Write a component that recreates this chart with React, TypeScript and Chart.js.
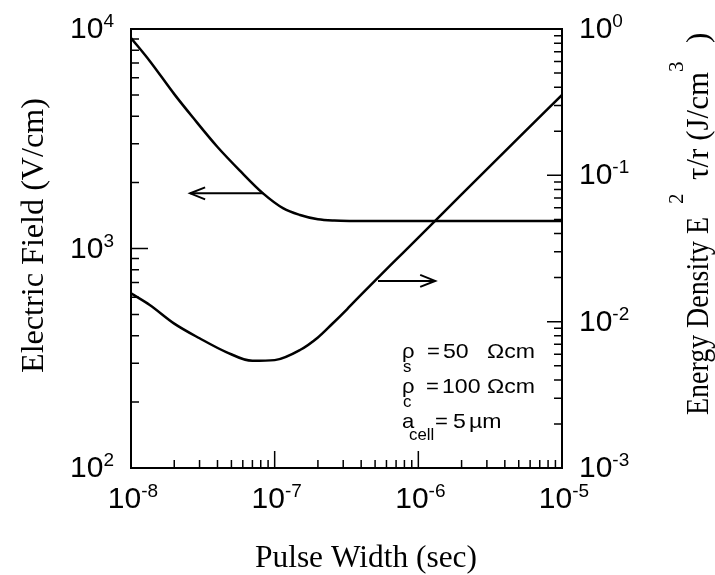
import React, { useEffect, useRef } from "react";
import { Chart, registerables } from "chart.js";

Chart.register(...registerables);

// ---- Data ----
const pulseWidthField = [1e-8, 1.35e-8, 2e-8, 2.7e-8, 4e-8, 5.7e-8, 8.3e-8, 1.15e-7, 1.5e-7, 2e-7, 2.6e-7, 3.5e-7, 5e-7, 1e-6, 1e-5];
const electricField = [9100, 7150, 5050, 3950, 2900, 2270, 1783, 1523, 1422, 1359, 1340, 1335, 1334, 1334, 1334];

const pulseWidthEnergy = [1e-8, 1.35e-8, 2e-8, 3e-8, 4.6e-8, 7e-8, 1e-7, 1.5e-7, 2e-7, 2.5e-7, 3.2e-7, 4e-7, 5e-7, 7e-7, 1e-6, 2e-6, 5e-6, 1e-5];
const energyDensity = [0.0156, 0.013, 0.0097, 0.0077, 0.0062, 0.0054, 0.00546, 0.0064, 0.0078, 0.0096, 0.0122, 0.0153, 0.0191, 0.0265, 0.0375, 0.074, 0.181, 0.354];

const xTickExponents = ["-8", "-7", "-6", "-5"];
const leftTickExponents = ["2", "3", "4"];
const rightTickExponents = ["-3", "-2", "-1", "0"];

const xAxisTitle = "Pulse Width (sec)";
const leftAxisTitle = "Electric Field (V/cm)";
const annotationLines = [
  { sym: "\u03C1", sub: "s", eq: "=", val: "50", unit: "\u03A9cm" },
  { sym: "\u03C1", sub: "c", eq: "=", val: "100", unit: "\u03A9cm" },
  { sym: "a", sub: "cell", eq: "=", val: "5", unit: "\u00B5m" },
];

const SANS = '"Liberation Sans", Arial, Helvetica, sans-serif';
const SERIF = '"Liberation Serif", "Times New Roman", Times, serif';

function fitText(ctx: CanvasRenderingContext2D, text: string, x: number, y: number, width: number, font: string) {
  ctx.font = font;
  const w = ctx.measureText(text).width;
  ctx.save();
  ctx.translate(x, y);
  ctx.scale(width / w, 1);
  ctx.textAlign = "left";
  ctx.textBaseline = "alphabetic";
  ctx.fillText(text, 0, 0);
  ctx.restore();
}

function stretchText(ctx: CanvasRenderingContext2D, text: string, x: number, y: number, font: string, sx: number) {
  ctx.font = font;
  ctx.save();
  ctx.translate(x, y);
  ctx.scale(sx, 1);
  ctx.textAlign = "left";
  ctx.textBaseline = "alphabetic";
  ctx.fillText(text, 0, 0);
  ctx.restore();
}

function drawPow(ctx: CanvasRenderingContext2D, exp: string, x: number, baseline: number, align: "left" | "right" | "center") {
  const baseFont = `30px ${SANS}`;
  const supFont = `19px ${SANS}`;
  ctx.font = baseFont;
  const bw = ctx.measureText("10").width;
  ctx.font = supFont;
  const sw = ctx.measureText(exp).width;
  const total = bw + sw;
  const x0 = align === "left" ? x : align === "right" ? x - total : x - total / 2;
  ctx.textAlign = "left";
  ctx.textBaseline = "alphabetic";
  ctx.font = baseFont;
  ctx.fillText("10", x0, baseline);
  ctx.font = supFont;
  ctx.fillText(exp, x0 + bw, baseline - 11);
}

function arrow(ctx: CanvasRenderingContext2D, x1: number, y1: number, x2: number, y2: number) {
  const ang = Math.atan2(y2 - y1, x2 - x1);
  const L = 15, Wd = 6;
  ctx.beginPath();
  ctx.moveTo(x1, y1);
  ctx.lineTo(x2, y2);
  ctx.stroke();
  ctx.beginPath();
  ctx.moveTo(x2 - L * Math.cos(ang) + Wd * Math.sin(ang), y2 - L * Math.sin(ang) - Wd * Math.cos(ang));
  ctx.lineTo(x2, y2);
  ctx.lineTo(x2 - L * Math.cos(ang) - Wd * Math.sin(ang), y2 - L * Math.sin(ang) + Wd * Math.cos(ang));
  ctx.stroke();
}

const decorPlugin = {
  id: "decor",
  afterDraw(chart: any) {
    const ctx: CanvasRenderingContext2D = chart.ctx;
    const { left, right, top, bottom } = chart.chartArea;
    const xs = chart.scales.x;
    const ys = chart.scales.y;
    const y2s = chart.scales.y2;
    ctx.save();
    ctx.strokeStyle = "#000";
    ctx.fillStyle = "#000";
    ctx.lineCap = "butt";

    ctx.lineWidth = 2;
    ctx.strokeRect(left, top, right - left, bottom - top);

    ctx.lineWidth = 1.5;
    ctx.beginPath();
    for (let k = -8; k <= -6; k++) {
      for (let m = 1; m <= 9; m++) {
        if (k === -8 && m === 1) continue;
        const px = xs.getPixelForValue(m * Math.pow(10, k));
        const len = m === 1 ? 17 : 8;
        ctx.moveTo(px, bottom);
        ctx.lineTo(px, bottom - len);
      }
    }
    for (let k = 2; k <= 3; k++) {
      for (let m = 1; m <= 9; m++) {
        if (k === 2 && m === 1) continue;
        const py = ys.getPixelForValue(m * Math.pow(10, k));
        const len = m === 1 ? 17 : 8;
        ctx.moveTo(left, py);
        ctx.lineTo(left + len, py);
      }
    }
    for (let k = -3; k <= -1; k++) {
      for (let m = 1; m <= 9; m++) {
        if (k === -3 && m === 1) continue;
        const py = y2s.getPixelForValue(m * Math.pow(10, k));
        const len = m === 1 ? 15 : 8;
        ctx.moveTo(right, py);
        ctx.lineTo(right - len, py);
      }
    }
    ctx.stroke();

    xTickExponents.forEach((e) => {
      const px = xs.getPixelForValue(Math.pow(10, Number(e)));
      drawPow(ctx, e, px + 2, bottom + 40, "center");
    });
    leftTickExponents.forEach((e) => {
      const py = ys.getPixelForValue(Math.pow(10, Number(e)));
      drawPow(ctx, e, left - 17, py + 9, "right");
    });
    rightTickExponents.forEach((e) => {
      const py = y2s.getPixelForValue(Math.pow(10, Number(e)));
      drawPow(ctx, e, right + 17, py + 9, "left");
    });

    fitText(ctx, xAxisTitle, 255, 567, 222, `32px ${SERIF}`);

    ctx.save();
    ctx.translate(43, 373);
    ctx.rotate(-Math.PI / 2);
    fitText(ctx, leftAxisTitle, 0, 0, 275, `31px ${SERIF}`);
    ctx.restore();

    ctx.save();
    ctx.translate(708, 415);
    ctx.rotate(-Math.PI / 2);
    fitText(ctx, "Energy Density E", 0, 0, 198, `31px ${SERIF}`);
    ctx.font = `21px ${SERIF}`;
    ctx.textAlign = "left";
    ctx.fillText("2", 211, -25);
    fitText(ctx, "\u03C4/r (J/cm", 235, 0, 108, `31px ${SERIF}`);
    ctx.font = `21px ${SERIF}`;
    ctx.fillText("3", 343, -25);
    ctx.font = `31px ${SERIF}`;
    ctx.fillText(")", 372, 0);
    ctx.restore();

    const baselines = [358, 393, 428];
    const eqX = [427, 426, 435];
    const valX = [443, 442, 453];
    const unitX = [487, 487, 469];
    annotationLines.forEach((ln, i) => {
      const b = baselines[i];
      stretchText(ctx, ln.sym, 402, b, `21px ${SANS}`, 1.05);
      stretchText(ctx, ln.sub, 403 + (ln.sub === "cell" ? 6 : 0), b + (ln.sub === "cell" ? 12 : 14), `16px ${SANS}`, 1.05);
      stretchText(ctx, ln.eq, eqX[i], b, `21px ${SANS}`, 1.05);
      stretchText(ctx, ln.val, valX[i], b, `21px ${SANS}`, 1.1);
      stretchText(ctx, ln.unit, unitX[i], b, `21px ${SANS}`, 1.1);
    });

    ctx.lineWidth = 2;
    arrow(ctx, xs.getPixelForValue(8.34e-8), ys.getPixelForValue(1783), xs.getPixelForValue(2.58e-8), ys.getPixelForValue(1783));
    arrow(ctx, xs.getPixelForValue(5.24e-7), y2s.getPixelForValue(0.019), xs.getPixelForValue(1.31e-6), y2s.getPixelForValue(0.019));

    ctx.restore();
  },
};

export default function App() {
  const ref = useRef<HTMLCanvasElement | null>(null);
  useEffect(() => {
    if (!ref.current) return;
    const chart = new Chart(ref.current, {
      type: "line",
      data: {
        datasets: [
          {
            label: "Electric Field",
            data: pulseWidthField.map((x, i) => ({ x, y: electricField[i] })),
            yAxisID: "y",
            borderColor: "#000",
            borderWidth: 2.5,
            pointRadius: 0,
            fill: false,
            cubicInterpolationMode: "monotone",
          },
          {
            label: "Energy Density",
            data: pulseWidthEnergy.map((x, i) => ({ x, y: energyDensity[i] })),
            yAxisID: "y2",
            borderColor: "#000",
            borderWidth: 2.5,
            pointRadius: 0,
            fill: false,
            cubicInterpolationMode: "monotone",
          },
        ],
      },
      options: {
        responsive: false,
        maintainAspectRatio: false,
        animation: false,
        layout: { padding: { left: 131, right: 153, top: 29, bottom: 107 } },
        plugins: { legend: { display: false }, tooltip: { enabled: false } },
        scales: {
          x: { type: "logarithmic", min: 1e-8, max: 1e-5, display: false },
          y: { type: "logarithmic", position: "left", min: 100, max: 10000, display: false },
          y2: { type: "logarithmic", position: "right", min: 0.001, max: 1, display: false },
        },
      },
      plugins: [decorPlugin],
    } as any);
    return () => chart.destroy();
  }, []);
  return (
    <div style={{ position: "fixed", left: 0, top: 0, width: 715, height: 575, background: "#fff" }}>
      <canvas ref={ref} width={715} height={575} style={{ display: "block" }} />
    </div>
  );
}
